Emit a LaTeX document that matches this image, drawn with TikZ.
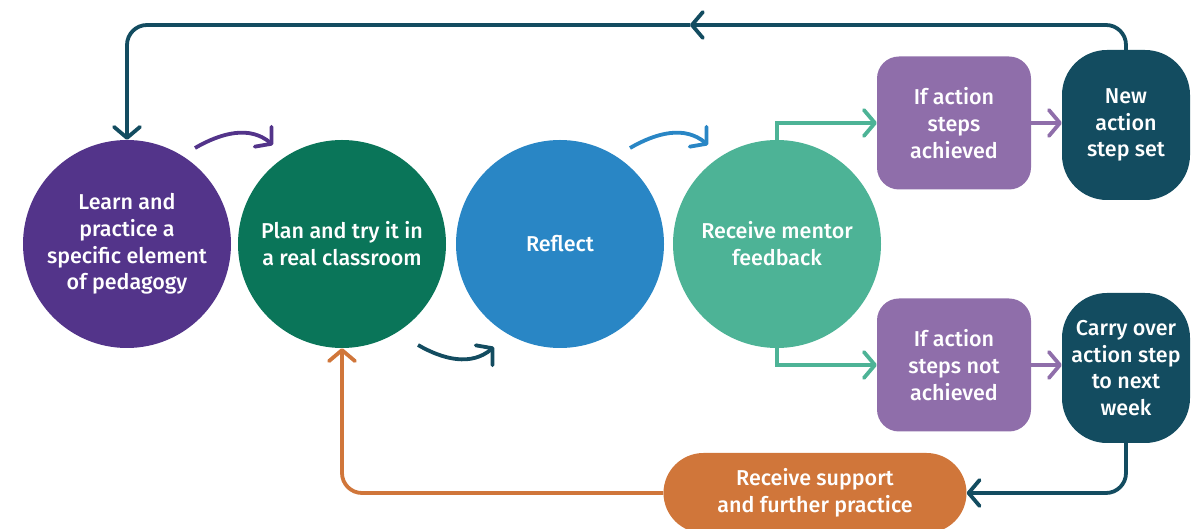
\documentclass[tikz,border=0pt]{standalone}
\usepackage{fontspec}
\setmainfont{Fira Sans}[BoldFont={Fira Sans Medium}]
\usetikzlibrary{arrows.meta}
\definecolor{grape}{HTML}{53348A}
\definecolor{forest}{HTML}{0A7559}
\definecolor{sky}{HTML}{2986C5}
\definecolor{mint}{HTML}{4DB396}
\definecolor{lilac}{HTML}{8F6EAA}
\definecolor{deepteal}{HTML}{134C60}
\definecolor{rust}{HTML}{D0763A}

\begin{document}
\begin{tikzpicture}[x=1pt,y=1pt,
  every node/.style={text=white,font=\bfseries\fontsize{21.5}{26.8}\selectfont,align=center,inner sep=0pt},
  stage/.style={circle,minimum size=208pt},
  choice/.style={rectangle,rounded corners=22pt,minimum width=154pt,minimum height=133pt,fill=lilac},
  outcome/.style={rectangle,rounded corners=45pt,minimum width=128pt,minimum height=150pt,fill=deepteal},
  flow/.style={line width=3.8pt,rounded corners=20pt,-{Straight Barb[length=11pt,width=26pt,round]}}]
  \useasboundingbox (0,0) rectangle (1202,529);

  \node[stage,fill=grape] at (127,285) (learn) {Learn and\\practice a\\specific element\\of pedagogy};
  \node[stage,fill=forest] at (342,285) (plan) {Plan and try it in\\a real classroom};
  \node[stage,fill=sky] at (560,285) (reflect) {Reflect};
  \node[stage,fill=mint] at (777,285) (feedback) {Receive mentor\\feedback};

  \node[choice] at (954,406) (achieved) {If action\\steps\\achieved};
  \node[outcome] at (1126,404) (newstep) {New\\action\\step set};
  \node[choice] at (954,164) (notachieved) {If action\\steps not\\achieved};
  \node[outcome] at (1126,161) (carry) {Carry over\\action step\\to next\\week};

  \node[rectangle,rounded corners=40pt,minimum width=303pt,minimum height=80pt,fill=rust] at (815,36) (support) {Receive support\\and further practice};

  \coordinate (topmid) at (690,504);
  \draw[flow,deepteal] (newstep.north) |- (topmid);
  \draw[flow,deepteal] (topmid) -| (learn.north);

  \coordinate (learnout) at (195,381);
  \coordinate (planin) at (273,384);
  \coordinate (reflectout) at (630,381);
  \coordinate (feedbackin) at (708,384);
  \coordinate (planout) at (418,184);
  \coordinate (reflectin) at (494,182);

  \draw[flow,grape] (learnout) to[out=30,in=140] (planin);
  \draw[flow,sky] (reflectout) to[out=30,in=140] (feedbackin);
  \draw[flow,deepteal] (planout) to[out=-30,in=-140] (reflectin);

  \draw[flow,mint,sharp corners] (feedback.north) |- (achieved.west);
  \draw[flow,mint,sharp corners] (feedback.south) |- (notachieved.west);

  \draw[flow,lilac] (achieved.east) -- (achieved.east -| newstep.west);
  \draw[flow,lilac] (notachieved.east) -- (notachieved.east -| carry.west);

  \draw[flow,deepteal] (carry.south) |- (support.east);
  \draw[flow,rust] (support.west) -| (plan.south);
\end{tikzpicture}
\end{document}
